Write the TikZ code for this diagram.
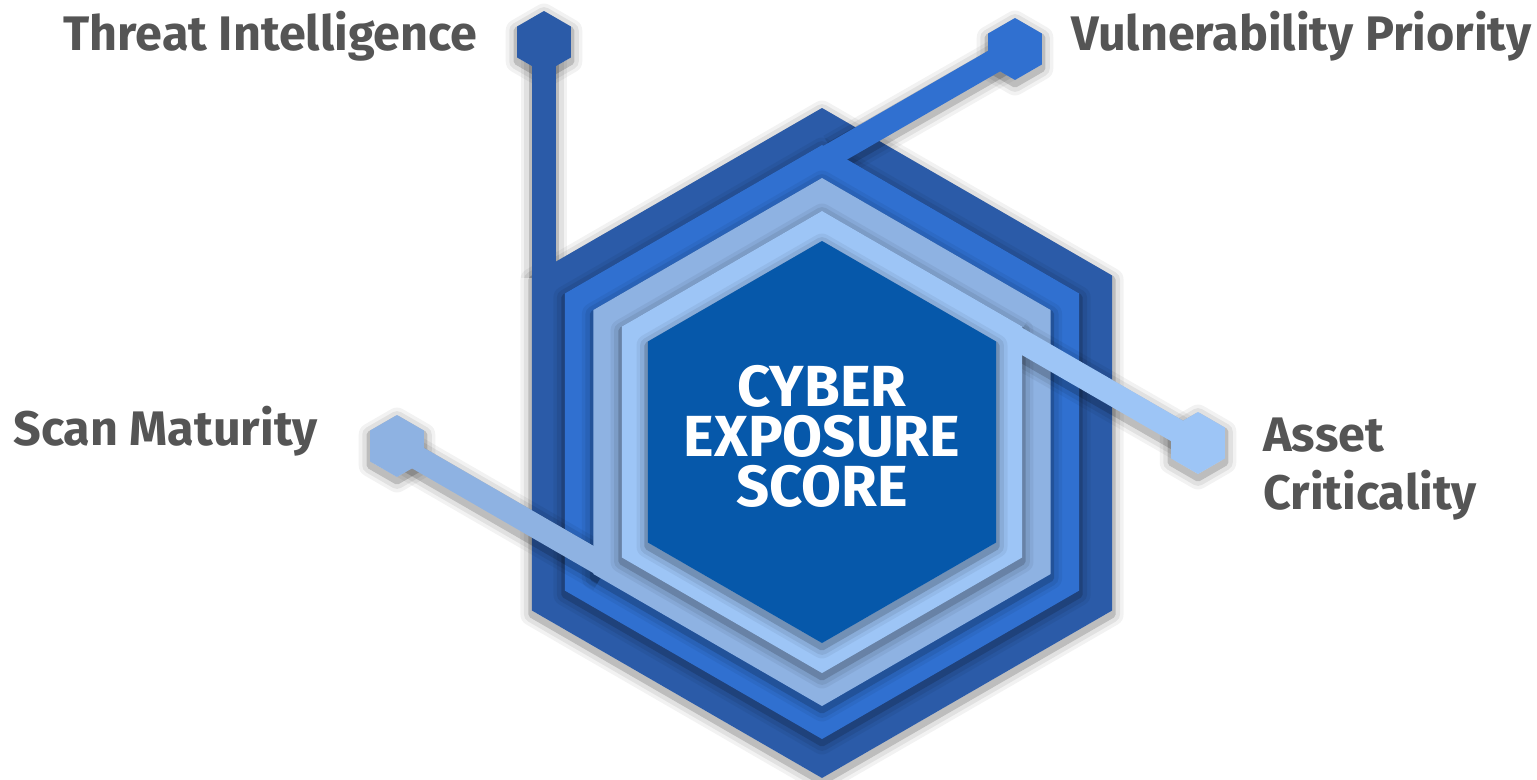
\documentclass[tikz,border=0pt]{standalone}
\usepackage{fontspec}
\setmainfont{Fira Sans}
\usetikzlibrary{positioning}

\definecolor{ringA}{RGB}{43,91,168}
\definecolor{ringB}{RGB}{48,112,208}
\definecolor{ringC}{RGB}{142,178,226}
\definecolor{ringD}{RGB}{157,197,246}
\definecolor{core}{RGB}{6,88,170}
\definecolor{labelgray}{RGB}{85,85,85}

% pointy-top hexagon: centre x, centre y, radius
\newcommand{\hexagon}[3]{(#1,#2) ++(90:#3) -- ++(-30:#3) -- ++(-90:#3) -- ++(-150:#3) -- ++(150:#3) -- ++(90:#3) -- cycle}

\tikzset{
  halo/.style={draw=black, draw opacity=.07, line width=9pt, line join=round,
    preaction={draw=black, draw opacity=.05, line width=13pt, line join=round},
    postaction={draw=black, draw opacity=.16, line width=4pt, line join=round}},
  bandhalo/.style={draw=black, draw opacity=.07, line width=22.5pt,
    preaction={draw=black, draw opacity=.05, line width=26.5pt},
    postaction={draw=black, draw opacity=.16, line width=17.5pt}},
  band/.style={line width=13.5pt},
  label/.style={text=labelgray, font=\fontsize{27.6}{32.5}\selectfont\bfseries, inner sep=0pt},
  title/.style={text=white, font=\fontsize{33}{28.5}\selectfont\bfseries, align=center, inner sep=0pt}
}

\begin{document}
\begin{tikzpicture}[x=0.02cm, y=-0.02cm]
\useasboundingbox (0,0) rectangle (1537,779);

% marker centres and band ends
\coordinate (tim) at (544,42);
\coordinate (tie) at (544,300);
\coordinate (vpm) at (1015,49);
\coordinate (vpe) at (800,173);
\coordinate (smm) at (397,446);
\coordinate (sme) at (700,621);
\coordinate (acm) at (1198,443);
\coordinate (ace) at (900,271);

% outer ring, threat intelligence
\path[halo] \hexagon{822}{447}{335};
\draw[bandhalo] ([yshift=-2.2pt]tim) -- (544,278);
\path[halo] \hexagon{544}{46}{31};
\fill[ringA] \hexagon{822}{443}{335};
\draw[ringA, band] (tim) -- (tie);
\fill[ringA] \hexagon{544}{42}{31};

% second ring, vulnerability priority
\path[halo] \hexagon{822}{446}{297};
\draw[bandhalo] ([yshift=-2.2pt]vpm) -- (835,156);
\path[halo] \hexagon{1015}{53}{31};
\fill[ringB] \hexagon{822}{442}{297};
\draw[ringB, band] (vpm) -- (vpe);
\fill[ringB] \hexagon{1015}{49}{31};

% third ring, scan maturity
\path[halo] \hexagon{822}{446}{264};
\draw[bandhalo] ([yshift=-2.2pt]smm) -- (605,570);
\path[halo] \hexagon{397}{450}{31};
\fill[ringC] \hexagon{822}{442}{264};
\draw[ringC, band] (smm) -- (sme);
\fill[ringC] \hexagon{397}{446}{31};

% fourth ring, asset criticality
\path[halo] \hexagon{822}{446}{231};
\draw[bandhalo] ([yshift=-2.2pt]acm) -- (1015,342);
\path[halo] \hexagon{1198}{447}{31};
\fill[ringD] \hexagon{822}{442}{231};
\draw[ringD, band] (acm) -- (ace);
\fill[ringD] \hexagon{1198}{443}{31};

% core
\path[halo] \hexagon{822}{446}{201};
\fill[core] \hexagon{822}{442}{201};
\node[title] (ces) at (822,436) {CYBER\\EXPOSURE\\SCORE};

% labels
\node[label, anchor=base east] (til) at (478,50) {Threat Intelligence};
\node[label, anchor=base west] (vpl) at (1071,50) {Vulnerability Priority};
\node[label, anchor=base east] (sml) at (318,445) {Scan Maturity};
\node[label, anchor=north west, align=left] (acl) at (1263,418) {Asset\\Criticality};
\end{tikzpicture}
\end{document}
